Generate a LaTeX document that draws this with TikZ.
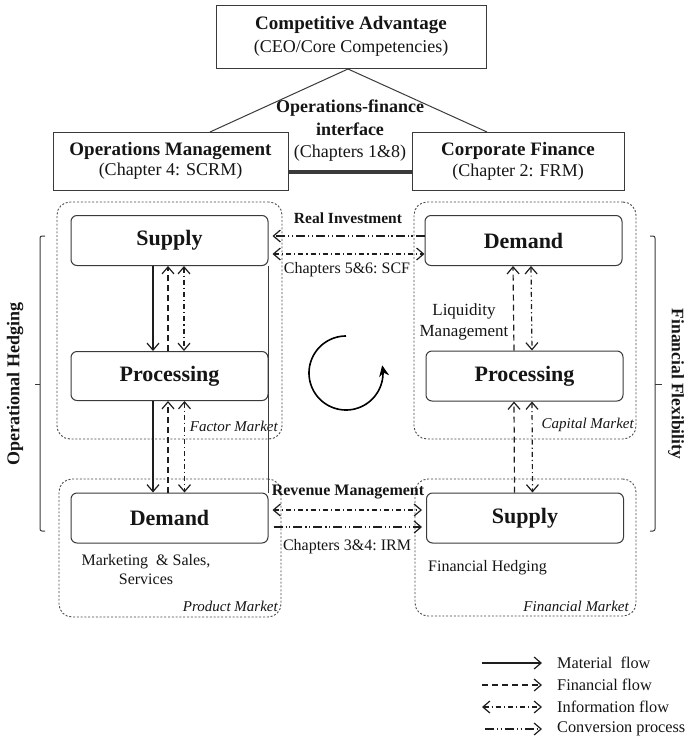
\documentclass[tikz,border=0pt]{standalone}
\usepackage{fontspec}
\setmainfont{Liberation Serif}
\usetikzlibrary{arrows.meta}
\definecolor{linec}{HTML}{3A3A3A}
\definecolor{dotc}{HTML}{4A4A4A}
\definecolor{arrc}{HTML}{1E1E1E}
\definecolor{txtc}{HTML}{151515}
\tikzset{
  plainbox/.style={draw=linec, line width=1pt, align=center, inner sep=0pt, text=txtc},
  stage/.style={draw=linec, line width=1pt, rounded corners=6pt, minimum width=197pt,
    minimum height=50pt, inner sep=0pt, text=txtc, font=\fontsize{22}{24}\selectfont\bfseries},
  market/.style={draw=dotc, line width=0.9pt, dash pattern=on 2pt off 1.8pt,
    rounded corners=13pt, inner sep=0pt},
  mlabel/.style={font=\fontsize{15}{17}\selectfont\itshape, inner sep=0pt, anchor=east, text=txtc},
  lbl/.style={font=\fontsize{16}{19}\selectfont, inner sep=0pt, text=txtc},
  blbl/.style={font=\fontsize{16}{19}\selectfont\bfseries, inner sep=0pt, text=txtc},
  side/.style={font=\fontsize{18}{20}\selectfont\bfseries, inner sep=0pt, text=txtc},
  legtxt/.style={font=\fontsize{16.3}{19}\selectfont, inner sep=0pt, anchor=west, text=txtc},
  flow/.style={draw=arrc, line width=1.2pt},
  material/.style={flow},
  financial/.style={flow, dash pattern=on 6pt off 4pt},
  information/.style={flow, dash pattern=on 5pt off 3pt on 1.2pt off 3pt},
  conversion/.style={flow, dash pattern=on 9pt off 3pt on 1.2pt off 2.5pt on 1.2pt off 3pt},
  bracket/.style={draw=linec, line width=1pt},
  >={Straight Barb[length=7pt,width=12pt]},
}
\begin{document}
\begin{tikzpicture}[x=1pt,y=-1pt]
\useasboundingbox (0,0) rectangle (687,745);

% ---------- top level: strategy and the two functions ----------
\node[plainbox, minimum width=270pt, minimum height=63pt, font=\fontsize{18}{23}\selectfont] (top) at (351,36.5)
  {{\fontsize{19}{23}\selectfont\bfseries Competitive Advantage}\\(CEO/Core Competencies)};
\node[plainbox, minimum width=235pt, minimum height=58pt, font=\fontsize{18}{20}\selectfont] (ops) at (170.5,161)
  {{\fontsize{19}{20}\selectfont\bfseries Operations Management}\\(Chapter 4: SCRM)};
\node[plainbox, minimum width=212pt, minimum height=58pt, font=\fontsize{18}{21}\selectfont] (corp) at (518,161)
  {{\fontsize{19}{21}\selectfont\bfseries Corporate Finance}\\(Chapter 2: FRM)};

\coordinate (apex) at (348,69);
\coordinate (opsfoot) at (210,132);
\coordinate (corpfoot) at (487,132);
\draw[linec, line width=1pt] (opsfoot) -- (apex) -- (corpfoot);
\draw[linec, line width=3.5pt] ([yshift=-11pt]ops.east) -- ([yshift=-11pt]corp.west);
\node[align=center, inner sep=0pt, text=txtc, font=\fontsize{18}{22.5}\selectfont] (iface) at (350,131)
  {\textbf{Operations-finance}\\\textbf{interface}\\(Chapters 1\&8)};

% ---------- market areas ----------
\node[market, minimum width=225pt, minimum height=237pt] (factor) at (169.5,320.5) {};
\node[market, minimum width=222pt, minimum height=237pt] (capital) at (525,320.5) {};
\node[market, minimum width=222pt, minimum height=138pt] (product) at (170,548) {};
\node[market, minimum width=221pt, minimum height=137pt] (finmkt) at (525.5,547.5) {};

\node[mlabel] (factorlbl) at (278,426) {Factor Market};
\node[mlabel] (capitallbl) at (634,425) {Capital Market};
\node[mlabel] (productlbl) at (278,606) {Product Market};
\node[mlabel] (finmktlbl) at (629,606) {Financial Market};

% ---------- stages ----------
\node[stage] (supplyL) at (169.5,240.5) {Supply};
\node[stage, minimum height=49pt] (procL) at (169.5,376) {Processing};
\node[stage] (demandL) at (169.5,518) {Demand};
\node[stage] (demandR) at (523.5,240.5) {Demand};
\node[stage] (procR) at (524.5,376) {Processing};
\node[stage] (supplyR) at (525,518) {Supply};

\draw[linec, line width=1pt] (supplyL.south east) -- (demandL.north east);

% ---------- operations side flows ----------
\draw[material,->] ([xshift=-16.5pt]supplyL.south) -- ([xshift=-16.5pt]procL.north);
\draw[financial,->] ([xshift=-1.5pt]procL.north) -- ([xshift=-1.5pt]supplyL.south);
\draw[information,<->] ([xshift=14.5pt]supplyL.south) -- ([xshift=14.5pt]procL.north);
\draw[material,->] ([xshift=-16.5pt]procL.south) -- ([xshift=-16.5pt]demandL.north);
\draw[financial,->] ([xshift=-1.5pt]demandL.north) -- ([xshift=-1.5pt]procL.south);
\draw[information,<->] ([xshift=15pt]procL.south) -- ([xshift=15pt]demandL.north);

% ---------- finance side flows ----------
\draw[financial,->] ([xshift=-10.5pt]procR.north) -- ([xshift=-10.5pt]demandR.south);
\draw[information,<->] ([xshift=7.5pt]demandR.south) -- ([xshift=7.5pt]procR.north);
\draw[financial,->] ([xshift=-10.5pt]supplyR.north) -- ([xshift=-10.5pt]procR.south);
\draw[information,<->] ([xshift=7.5pt]procR.south) -- ([xshift=7.5pt]supplyR.north);

\node[lbl, align=center, font=\fontsize{17}{21}\selectfont] (liquidity) at (464,322) {Liquidity\\Management};

% ---------- cross flows ----------
\node[blbl, font=\fontsize{15.5}{18}\selectfont\bfseries] (realinv) at (348,218) {Real Investment};
\draw[conversion,->, shorten >=4pt] ([yshift=4.5pt]demandR.west) -- ([yshift=4.5pt]supplyL.east);
\draw[information,<->, shorten <=4pt] ([yshift=-13.5pt]supplyL.east) -- ([yshift=-13.5pt]demandR.west);
\node[lbl] (scf) at (347,270) {Chapters 5\&6:\ SCF};

\node[blbl] (revmgmt) at (348,492) {Revenue Management};
\draw[information,<->, shorten <=4pt, shorten >=4pt] ([yshift=8pt]demandL.east) -- ([yshift=8pt]supplyR.west);
\draw[conversion,->, shorten <=5pt, shorten >=4pt] ([yshift=-9pt]demandL.east) -- ([yshift=-9pt]supplyR.west);
\node[lbl] (irm) at (347,547) {Chapters 3\&4:\ IRM};

\node[lbl, align=center] (mkt) at (146,570) {Marketing\ \ \& Sales,\\Services};
\node[lbl, anchor=west] (hedge) at (428,568) {Financial\ Hedging};

% ---------- cycle symbol ----------
\draw[black, line width=1.6pt, -{Stealth[length=11pt,width=10pt]}]
  plot[domain=90:372, samples=90] ({346+37*cos(\x)},{373-37*sin(\x)});

% ---------- side brackets ----------
\draw[bracket, rounded corners=2pt] (45,236) -- (40,236) -- (40,531) -- (45,531);
\draw[bracket] (40,384) -- (35,384);
\node[side, rotate=90] (ophedge) at (15,384) {Operational Hedging};
\draw[bracket, rounded corners=2pt] (650,236) -- (655,236) -- (655,531) -- (650,531);
\draw[bracket] (655,384) -- (662,384);
\node[side, rotate=-90, font=\fontsize{17.5}{20}\selectfont\bfseries] (finflex) at (676,384) {Financial Flexibility};

% ---------- legend ----------
\node[legtxt] (lmat) at (557,663) {Material\ \ flow};
\node[legtxt] (lfin) at (557,685) {Financial\ flow};
\node[legtxt] (linf) at (557,707) {Information\ flow};
\node[legtxt] (lconv) at (557,729) {Conversion process};
\coordinate (lmat0) at (482,663);
\coordinate (lfin0) at (482,685);
\coordinate (linf0) at (482,707);
\coordinate (lconv0) at (485,729);
\draw[material,->, shorten >=15pt] (lmat0) -- (lmat.west);
\draw[financial,->, shorten >=15pt] (lfin0) -- (lfin.west);
\draw[information,<->, shorten >=15pt] (linf0) -- (linf.west);
\draw[conversion,->, shorten >=15pt] (lconv0) -- (lconv.west);
\end{tikzpicture}
\end{document}
